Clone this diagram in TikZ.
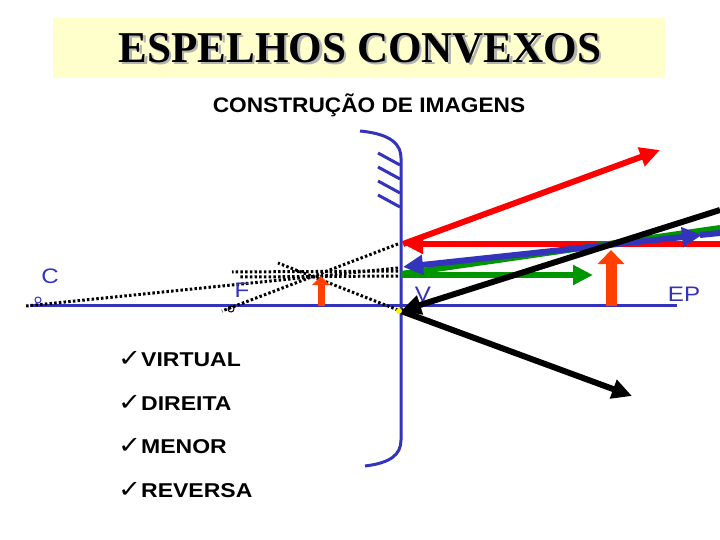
\documentclass[tikz,border=0pt]{standalone}
\usepackage{fontspec}
\setmainfont{Liberation Sans}
\newfontfamily\ttl{Liberation Serif}
\newfontfamily\dv{DejaVu Sans}
\usetikzlibrary{arrows.meta}
\definecolor{mblue}{RGB}{51,51,187}
\definecolor{mgreen}{RGB}{0,150,0}
\definecolor{morange}{RGB}{255,64,0}
\definecolor{tyel}{RGB}{255,255,204}
\begin{document}
\begin{tikzpicture}[x=1pt,y=-1pt,
  ray/.style={line width=6pt,-{Triangle[length=20pt,width=19pt]}},
  dots/.style={black,line width=3pt,dash pattern=on 2.5pt off 2.2pt},
  lbl/.style={text=mblue,font=\fontsize{21}{21}\selectfont,xscale=1.15,transform shape},
  chk/.style={anchor=west,font=\bfseries\fontsize{20}{20}\selectfont,xscale=1.15,transform shape}]
\useasboundingbox (0,0) rectangle (720,540);
% title
\fill[tyel] (53,18) rectangle (665,78);
\node (title) [font=\ttl\bfseries\fontsize{44}{44}\selectfont,xscale=0.98,transform shape] at (360,49) {\rlap{\hspace{2.5pt}\raisebox{-2pt}{\textcolor{gray!60}{ESPELHOS CONVEXOS}}}ESPELHOS CONVEXOS};
\node (sub) [font=\bfseries\fontsize{21}{21}\selectfont,xscale=1.08,transform shape] at (369,105) {CONSTRUÇÃO DE IMAGENS};
% axis and mirror
\draw[mblue,line width=3pt] (30,305) -- (677,305);
\draw[mblue,line width=3pt] (360,131) .. controls (392,134) and (401,145) .. (401,158) -- (401,440) .. controls (401,455) and (390,463) .. (365,466);
\foreach \y in {153,167,181,195} \draw[mblue,line width=3pt] (378,\y) -- (400,\y+12);
% dotted extensions
\draw[dots] (398,244) -- (222,311);
\draw[dots] (398,310) -- (278,263);
\draw[dots] (398,271) -- (232,272);
\draw[dots] (398,276) -- (240,277);
\draw[dots] (398,268) -- (26,306);
% rays
\coordinate (M1) at (403,244);
\draw[red,ray] (720,244) -- (M1);
\draw[red,ray] (M1) -- (660,150);
\draw[mgreen,line width=6pt] (720,228) -- (401,274);
\draw[mgreen,ray] (401,275) -- (593,275);
\draw[mblue,line width=6pt,{Triangle[length=20pt,width=19pt]}-{Triangle[length=20pt,width=19pt]}] (403,267) -- (702,235);
\draw[mblue,line width=6pt] (700,235) -- (720,233);
\draw[black,ray] (720,210) -- (401,311);
\draw[black,ray] (401,311) -- (632,396);
% objects
\draw[morange,line width=11pt,-{Triangle[length=14pt,width=26pt]}] (611,306) -- (611,250);
\draw[morange,line width=7pt,-{Triangle[length=9pt,width=17pt]}] (321,306) -- (321,276);
\fill[yellow] (399,311) circle (3pt);
% labels
\node (C) [lbl] at (50,276) {C};
\draw[mblue,line width=1pt] (38,300) circle (3pt);
\node (F) [lbl] at (242,290) {F};
\draw[black,line width=1pt] (231,309) circle (3pt);
\node (V) [lbl] at (423,294) {V};
\node (EP) [lbl] at (684,294) {EP};
% list
\node (l1) [chk] at (114,359) {{\dv\mdseries\fontsize{24}{24}\selectfont ✓}VIRTUAL};
\node (l2) [chk] at (114,403) {{\dv\mdseries\fontsize{24}{24}\selectfont ✓}DIREITA};
\node (l3) [chk] at (114,446) {{\dv\mdseries\fontsize{24}{24}\selectfont ✓}MENOR};
\node (l4) [chk] at (114,490) {{\dv\mdseries\fontsize{24}{24}\selectfont ✓}REVERSA};
\end{tikzpicture}
\end{document}
